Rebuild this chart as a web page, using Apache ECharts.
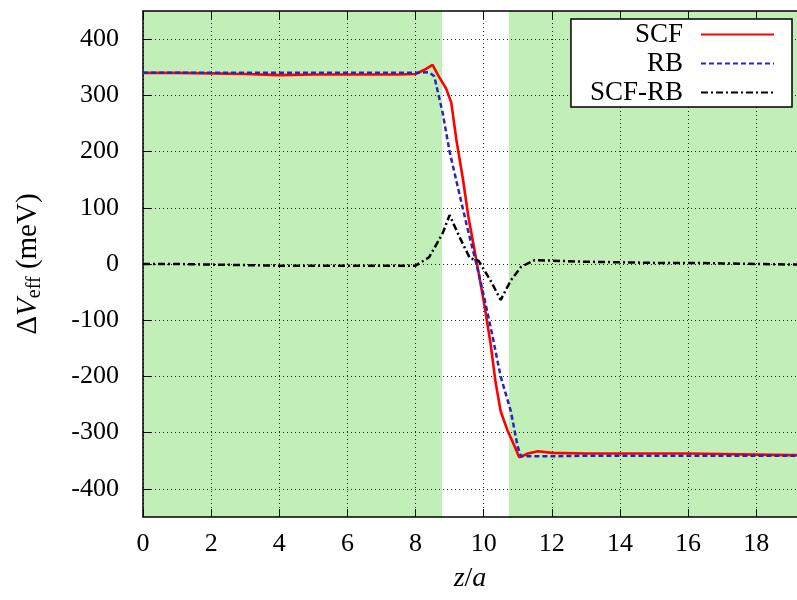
<!DOCTYPE html>
<html>
<head>
<meta charset="utf-8">
<script src="https://cdn.jsdelivr.net/npm/echarts@6/dist/echarts.min.js"></script>
<style>html,body{margin:0;padding:0;background:#fff;}#c{width:797px;height:600px;}</style>
</head>
<body>
<div id="c"></div>
<script>
// ---- data ----
var scfX = [0,1,2,3,4,5,6,7,7.5,8,8.25,8.5,8.7,8.9,9.05,9.2,9.4,9.55,9.75,10,10.2,10.35,10.5,10.7,10.85,11.05,11.3,11.6,12,13,14,15,16,17,18,19,19.2];
var scfY = [340,340,339,338,336,337,337,337,337,338,345,354,332,312,287,221,148,85,19,-65,-140,-210,-262,-296,-316,-344,-337,-333,-336,-337,-337,-337,-337,-338,-339,-340,-340];

var rbX = [0,1,2,3,4,5,6,7,8,8.4,8.55,8.8,9.0,9.25,9.5,9.8,10.0,10.25,10.5,10.8,11.0,11.1,11.5,12,13,14,15,16,17,18,19,19.2];
var rbY = [340,340,340,340,340,340,340,340,340,341,334,268,200,135,70,-3,-55,-125,-200,-262,-325,-342,-342,-342,-341,-341,-341,-341,-341,-341,-341,-341];

var diffX = [0,1,2,3,4,5,6,7,7.5,8,8.4,8.8,9.0,9.3,9.6,9.85,10.2,10.5,10.8,11.1,11.5,12,13,14,15,16,17,18,19,19.2];
var diffY = [0,0,-1,-2,-3,-3,-3,-3,-3,-3,12,55,87,47,10,6,-29,-64,-29,-5,7,6,4,3,2,2,1,0,-1,-1];

var xTickLabels = [0,2,4,6,8,10,12,14,16,18];
var yTickLabels = [-400,-300,-200,-100,0,100,200,300,400];
var bandRanges = [[0, 8.78], [10.74, 19.2]];

var seriesNames = ['SCF', 'RB', 'SCF-RB'];

function pairs(xs, ys) { return xs.map(function (x, i) { return [x, ys[i]]; }); }

var FONT = 'Liberation Serif';
var dotted = { color: '#000', width: 1, type: [1, 3], opacity: 0.85 };

var chart = echarts.init(document.getElementById('c'), null, { renderer: 'canvas' });
chart.setOption({
  animation: false,
  backgroundColor: '#fff',
  grid: { left: 143, right: 0, top: 11, bottom: 83, containLabel: false },
  legend: {
    data: seriesNames,
    orient: 'vertical',
    right: 5, top: 19,
    align: 'right',
    itemWidth: 73, itemHeight: 14, itemGap: 2,
    padding: [2, 17, 1, 19],
    backgroundColor: '#fff',
    borderColor: '#000', borderWidth: 1.5, borderRadius: 0,
    itemStyle: { opacity: 0 },
    textStyle: { fontFamily: FONT, fontSize: 27, color: '#000', lineHeight: 25, padding: [0, 13, 0, 0] }
  },
  xAxis: [{
    type: 'value', min: 0, max: 19.2, interval: 1, z: 2,
    position: 'bottom',
    name: '{i|z}{r|/}{i|a}',
    nameLocation: 'middle', nameGap: 48,
    nameTextStyle: { rich: {
      i: { fontFamily: FONT, fontStyle: 'italic', fontSize: 28, color: '#000' },
      r: { fontFamily: FONT, fontSize: 28, color: '#000' }
    } },
    axisLine: { show: true, onZero: false, lineStyle: { color: '#000', width: 1.5 } },
    axisTick: { show: true, inside: true, length: 8, customValues: xTickLabels, lineStyle: { color: '#000', width: 1 } },
    axisLabel: { customValues: xTickLabels, fontFamily: FONT, fontSize: 26, color: '#000', margin: 14 },
    splitLine: { show: true, lineStyle: dotted }
  }, {
    type: 'value', min: 0, max: 19.2, interval: 1, z: 2,
    position: 'top',
    axisLine: { show: true, onZero: false, lineStyle: { color: '#000', width: 1.5 } },
    axisTick: { show: true, inside: true, length: 8, customValues: xTickLabels, lineStyle: { color: '#000', width: 1 } },
    axisLabel: { show: false },
    splitLine: { show: false }
  }],
  yAxis: [{
    type: 'value', min: -450, max: 450, interval: 50, z: 2,
    name: '{a|Δ}{i|V}{s|eff}{a| (meV)}',
    nameLocation: 'middle', nameRotate: 90, nameGap: 98,
    nameTextStyle: { rich: {
      a: { fontFamily: FONT, fontSize: 29, color: '#000', lineHeight: 34 },
      i: { fontFamily: FONT, fontStyle: 'italic', fontSize: 29, color: '#000', lineHeight: 34 },
      s: { fontFamily: FONT, fontSize: 20, color: '#000', lineHeight: 34, verticalAlign: 'bottom', padding: [10, 0, 0, 0] }
    } },
    axisLine: { show: true, onZero: false, lineStyle: { color: '#000', width: 1.5 } },
    axisTick: { show: true, inside: true, length: 8, customValues: yTickLabels, lineStyle: { color: '#000', width: 1 } },
    axisLabel: { customValues: yTickLabels, fontFamily: FONT, fontSize: 26, color: '#000', margin: 24 },
    splitLine: { show: true, lineStyle: dotted }
  }],
  series: [{
    name: 'bands', type: 'line', data: [], z: 0, silent: true,
    markArea: {
      silent: true, z: 0,
      itemStyle: { color: '#c2eeb8' },
      data: bandRanges.map(function (r) { return [{ xAxis: r[0], yAxis: -450 }, { xAxis: r[1], yAxis: 450 }]; })
    }
  }, {
    name: 'SCF', type: 'line', symbol: 'none', z: 3,
    data: pairs(scfX, scfY),
    lineStyle: { color: '#ff0000', width: 2.6 },
    itemStyle: { color: '#ff0000' }
  }, {
    name: 'RB', type: 'line', symbol: 'none', z: 4,
    data: pairs(rbX, rbY),
    lineStyle: { color: '#2626bd', width: 2.5, type: [5, 3] },
    itemStyle: { color: '#2626bd' }
  }, {
    name: 'SCF-RB', type: 'line', symbol: 'none', z: 5,
    data: pairs(diffX, diffY),
    lineStyle: { color: '#000', width: 2.5, type: [7, 3, 2, 3] },
    itemStyle: { color: '#000' }
  }]
});
</script>
</body>
</html>
